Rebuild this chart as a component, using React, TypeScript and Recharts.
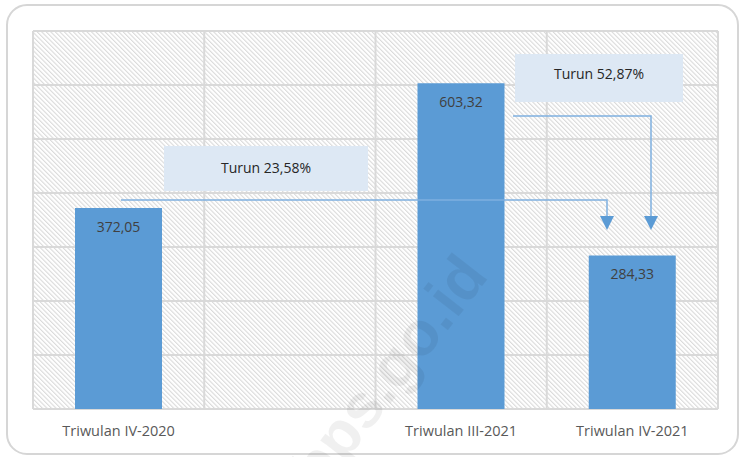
import React from "react";
import {
  BarChart,
  Bar,
  XAxis,
  YAxis,
  CartesianGrid,
  LabelList,
} from "recharts";

// ---- Data -------------------------------------------------------------------
const periods = ["Triwulan IV-2020", "", "Triwulan III-2021", "Triwulan IV-2021"];
const values: (number | null)[] = [372.05, null, 603.32, 284.33];
const yTicks = [0, 100, 200, 300, 400, 500, 600, 700];
const notes = ["Turun 23,58%", "Turun 52,87%"];

const chartData = periods.map((p, i) => ({ period: p, value: values[i] }));

const BAR = "#5b9bd5";
const GRID = "#d9d9d9";
const FONT = "'Open Sans', 'Noto Sans', sans-serif";

const fmt = (v: any) =>
  v == null ? "" : Number(v).toFixed(2).replace(".", ",");

// ---- Component --------------------------------------------------------------
const App: React.FC = () => {
  return (
    <div
      style={{
        position: "absolute",
        left: 0,
        top: 0,
        width: 743,
        height: 457,
        background: "#fff",
        fontFamily: FONT,
      }}
    >
      {/* outer frame */}
      <svg
        width={743}
        height={457}
        style={{ position: "absolute", left: 0, top: 0 }}
      >
        <rect
          x={7}
          y={5}
          width={731}
          height={449}
          rx={20}
          fill="#fff"
          stroke="#d6d6d6"
          strokeWidth={2}
        />
      </svg>

      <div style={{ position: "absolute", left: 0, top: 0 }}>
        <BarChart
          width={743}
          height={457}
          data={chartData}
          margin={{ top: 31, right: 25, left: 33, bottom: 18 }}
          barSize={87}
        >
          <defs>
            <pattern
              id="hatch"
              patternUnits="userSpaceOnUse"
              width={3.2}
              height={3.2}
              patternTransform="rotate(-45)"
            >
              <rect width={3.2} height={3.2} fill="#ffffff" />
              <rect width={1.1} height={3.2} fill="#dadada" />
            </pattern>
          </defs>
          <CartesianGrid
            fill="url(#hatch)"
            fillOpacity={1}
            stroke={GRID}
            strokeWidth={2}
            verticalCoordinatesGenerator={({ offset }: any) =>
              [0, 1, 2, 3, 4].map(
                (i) => offset.left + (i * offset.width) / periods.length
              )
            }
          />
          <XAxis
            dataKey="period"
            axisLine={false}
            tickLine={false}
            height={30}
            tickMargin={11}
            interval={0}
            tick={{ fontSize: 14.5, fill: "#595959", fontFamily: FONT }}
          />
          <YAxis hide domain={[0, 700]} ticks={yTicks} />
          <Bar dataKey="value" fill={BAR} isAnimationActive={false}>
            <LabelList
              dataKey="value"
              position="insideTop"
              offset={14}
              formatter={fmt}
              style={{ fontSize: 14, fill: "#404040", fontFamily: FONT }}
            />
          </Bar>
        </BarChart>
      </div>

      {/* annotations + watermark */}
      <svg
        width={743}
        height={457}
        style={{ position: "absolute", left: 0, top: 0, pointerEvents: "none" }}
      >
        <rect x={164} y={146} width={204} height={45} fill="#dde8f4" />
        <text
          x={266}
          y={169}
          textAnchor="middle"
          dominantBaseline="middle"
          fontSize={14}
          fill="#262626"
          fontFamily={FONT}
        >
          {notes[0]}
        </text>
        <rect x={515} y={54} width={168} height={48} fill="#dde8f4" />
        <text
          x={599}
          y={75}
          textAnchor="middle"
          dominantBaseline="middle"
          fontSize={14}
          fill="#262626"
          fontFamily={FONT}
        >
          {notes[1]}
        </text>
        <polyline
          points="121,200 607,200 607,216"
          fill="none"
          stroke="#7fb0e0"
          strokeWidth={1.5}
        />
        <path d="M600,216 L614,216 L607,230 Z" fill={BAR} />
        <polyline
          points="513,116 651,116 651,216"
          fill="none"
          stroke="#7fb0e0"
          strokeWidth={1.5}
        />
        <path d="M644,216 L658,216 L651,230 Z" fill={BAR} />
        <text
          x={405}
          y={385}
          transform="rotate(-52 405 385)"
          textAnchor="middle"
          fontSize={62}
          fontWeight="bold"
          fill="#000"
          fillOpacity={0.06}
          fontFamily="'Liberation Sans', Arial, sans-serif"
        >
          bps.go.id
        </text>
      </svg>
    </div>
  );
};

export default App;
